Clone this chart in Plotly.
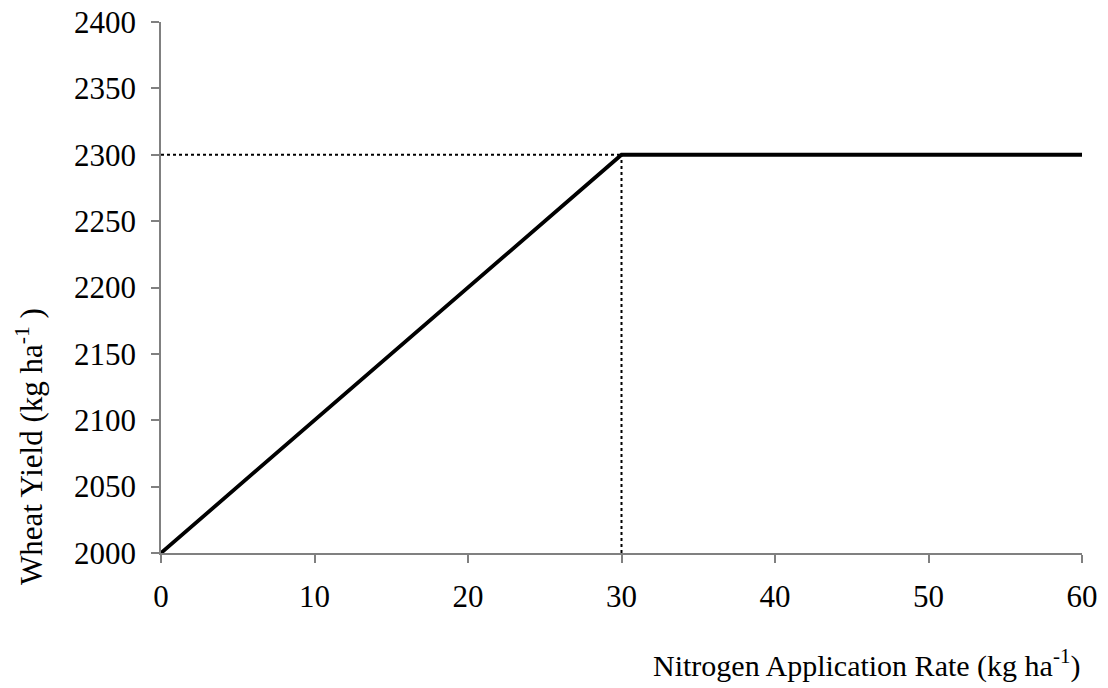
import plotly.graph_objects as go

# Nitrogen application rate (kg/ha) and wheat yield response (kg/ha)
nitrogen_rate = [0, 1, 2, 3, 4, 5, 6, 7, 8, 9, 10, 11, 12, 13, 14, 15, 16, 17, 18, 19, 20,
                 21, 22, 23, 24, 25, 26, 27, 28, 29, 30, 35, 40, 45, 50, 55, 60]
wheat_yield = [2000, 2010, 2020, 2030, 2040, 2050, 2060, 2070, 2080, 2090, 2100, 2110, 2120,
               2130, 2140, 2150, 2160, 2170, 2180, 2190, 2200, 2210, 2220, 2230, 2240, 2250,
               2260, 2270, 2280, 2290, 2300, 2300, 2300, 2300, 2300, 2300, 2300]

# Optimum point guide lines
optimum_rate = 30
plateau_yield = 2300
axis_min_yield = 2000

x_ticks = [0, 10, 20, 30, 40, 50, 60]
y_ticks = [2000, 2050, 2100, 2150, 2200, 2250, 2300, 2350, 2400]

FONT = "Liberation Serif, Times New Roman, serif"
AXIS_GREY = "#808080"

fig = go.Figure()

fig.add_trace(go.Scatter(
    x=[0, optimum_rate], y=[plateau_yield, plateau_yield],
    mode="lines", line=dict(color="black", width=2, dash="dot"),
    hoverinfo="skip", showlegend=False, cliponaxis=False,
))
fig.add_trace(go.Scatter(
    x=[optimum_rate, optimum_rate], y=[axis_min_yield, plateau_yield],
    mode="lines", line=dict(color="black", width=2, dash="dot"),
    hoverinfo="skip", showlegend=False, cliponaxis=False,
))
fig.add_trace(go.Scatter(
    x=nitrogen_rate, y=wheat_yield,
    mode="lines", line=dict(color="black", width=3.8),
    showlegend=False, cliponaxis=False,
))

fig.update_layout(
    width=1108, height=688,
    margin=dict(l=161, r=26, t=22, b=135),
    paper_bgcolor="white", plot_bgcolor="white",
    font=dict(family=FONT, size=31, color="black"),
    xaxis=dict(
        range=[0, 60], tickvals=x_ticks, showgrid=False, zeroline=False,
        showline=True, linecolor=AXIS_GREY, linewidth=1.5,
        ticks="outside", ticklen=8, tickcolor=AXIS_GREY, tickwidth=1.5,
        ticklabelstandoff=7, automargin=False,
        tickfont=dict(family=FONT, size=31, color="black"),
    ),
    yaxis=dict(
        range=[2000, 2400], tickvals=y_ticks, showgrid=False, zeroline=False,
        showline=True, linecolor=AXIS_GREY, linewidth=1.5,
        ticks="outside", ticklen=8, tickcolor=AXIS_GREY, tickwidth=1.5,
        ticklabelstandoff=9, automargin=False,
        tickfont=dict(family=FONT, size=31, color="black"),
    ),
    annotations=[
        dict(text="Nitrogen Application Rate (kg ha<sup>-1</sup>)",
             xref="paper", yref="paper", x=1.0, y=-0.167,
             xanchor="right", yanchor="top", showarrow=False,
             font=dict(family=FONT, size=30, color="black")),
        dict(text="Wheat Yield (kg ha<sup>-1</sup> )",
             xref="paper", yref="paper", x=-0.142, y=0.20,
             xanchor="center", yanchor="middle", textangle=-90, showarrow=False,
             font=dict(family=FONT, size=31, color="black")),
    ],
)

fig.write_html("out.html")
